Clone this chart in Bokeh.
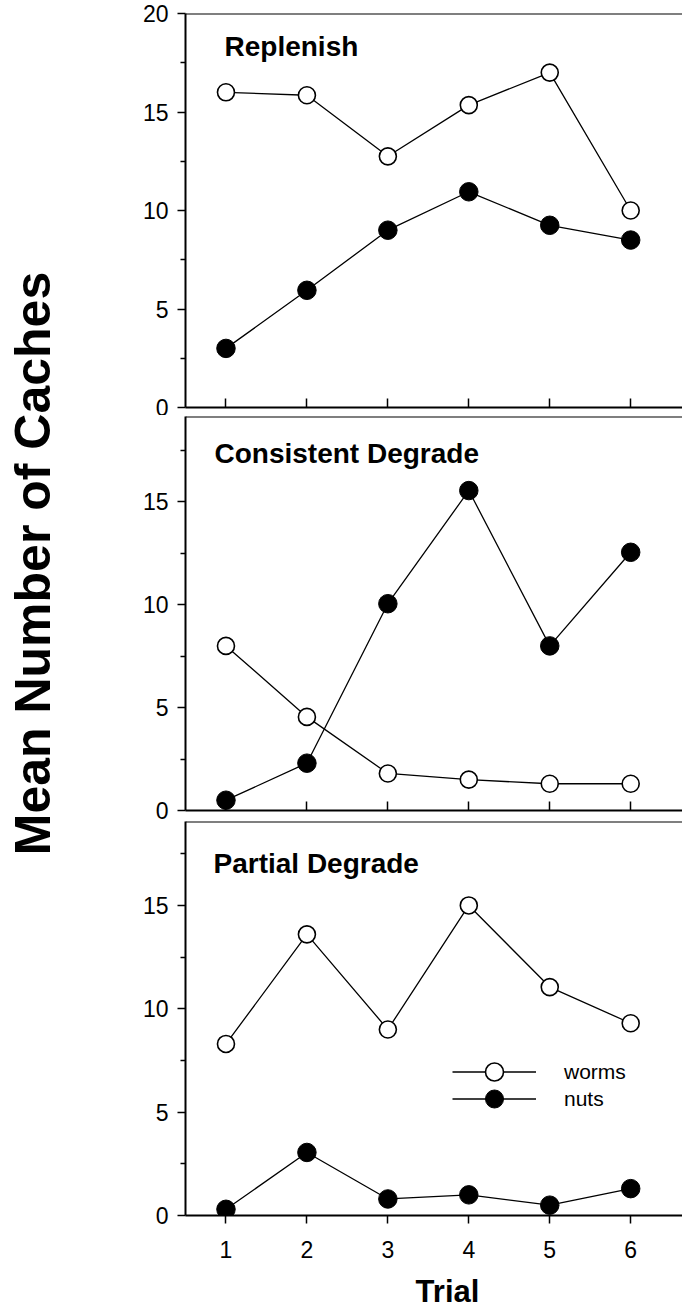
import math
from bokeh.plotting import figure
from bokeh.layouts import row, column
from bokeh.models import Range1d, Span, Label, Legend, LegendItem, FixedTicker
from bokeh.embed import file_html
from bokeh.resources import INLINE

# ---------------- data ----------------
trials = [1, 2, 3, 4, 5, 6]
panel_titles = ["Replenish", "Consistent Degrade", "Partial Degrade"]
replenish_worms = [16.0, 15.85, 12.75, 15.35, 17.0, 10.0]
replenish_nuts = [3.0, 5.95, 9.0, 10.95, 9.25, 8.5]
consistent_worms = [8.0, 4.55, 1.8, 1.5, 1.3, 1.3]
consistent_nuts = [0.5, 2.3, 10.05, 15.55, 8.0, 12.55]
partial_worms = [8.3, 13.6, 9.0, 15.0, 11.05, 9.3]
partial_nuts = [0.3, 3.05, 0.8, 1.0, 0.5, 1.3]
y_major_ticks = [0, 5, 10, 15, 20]
y_minor_ticks = [2.5, 7.5, 12.5, 17.5]
series_labels = ["worms", "nuts"]
y_title = "Mean Number of Caches"
x_title = "Trial"

FONT = "Liberation Sans"
TICK_FS = "23px"
LW = 100          # width of the y-title strip
PW = 582          # width of each panel figure
BL = 85           # left border of panels (frame left at page x=185)
XMIN, XMAX = 0.5, 6.64


def make_panel(title, worms, nuts, ymax, height, b_top, b_bottom, last, title_dy, title_dx):
    p = figure(width=PW, height=height,
               x_range=Range1d(XMIN, XMAX), y_range=Range1d(0, ymax),
               output_backend="svg", toolbar_location=None,
               min_border_left=BL, min_border_right=0,
               min_border_top=b_top, min_border_bottom=b_bottom)
    p.outline_line_color = None
    p.grid.visible = False

    # y axis
    ya = p.yaxis[0]
    ya.ticker = FixedTicker(ticks=y_major_ticks, minor_ticks=y_minor_ticks)
    ya.axis_line_width = 2
    ya.axis_line_color = "black"
    ya.major_tick_line_width = 1.5
    ya.minor_tick_line_width = 1.5
    ya.major_tick_in = 0
    ya.major_tick_out = 8
    ya.minor_tick_in = 0
    ya.minor_tick_out = 5
    ya.major_label_text_font = FONT
    ya.major_label_text_font_size = TICK_FS
    ya.major_label_text_color = "black"
    ya.major_label_standoff = 9

    # x axis
    xa = p.xaxis[0]
    xa.ticker = FixedTicker(ticks=trials)
    xa.axis_line_width = 2
    xa.axis_line_color = "black"
    xa.major_tick_line_width = 1.5
    xa.minor_tick_line_color = None
    if last:
        xa.major_tick_in = 0
        xa.major_tick_out = 8
        xa.major_label_text_font = FONT
        xa.major_label_text_font_size = TICK_FS
        xa.major_label_text_color = "black"
        xa.major_label_standoff = 17
    else:
        xa.major_tick_in = 9
        xa.major_tick_out = 0
        xa.major_label_text_font_size = "1px"
        xa.major_label_text_color = None
        xa.major_label_standoff = 0

    # top border of the panel
    p.add_layout(Span(location=ymax, dimension="width", line_color="black", line_width=2))

    nl = p.line(trials, nuts, line_color="black", line_width=1.3)
    ns = p.scatter(trials, nuts, size=18.5, marker="circle",
                   fill_color="black", line_color="black", line_width=1)
    wl = p.line(trials, worms, line_color="black", line_width=1.3)
    ws = p.scatter(trials, worms, size=17, marker="circle",
                   fill_color="white", line_color="black", line_width=1.6)

    frame_h = height - b_top - b_bottom
    p.add_layout(Label(x=title_dx, y=frame_h - title_dy, x_units="screen", y_units="screen",
                       text=title, text_font=FONT, text_font_size="28px",
                       text_font_style="bold", text_color="black",
                       text_baseline="middle", text_align="left"))
    return p, (wl, ws), (nl, ns)


H1, H2, H3, HX = 415, 404, 445, 46
p1, _, _ = make_panel(panel_titles[0], replenish_worms, replenish_nuts, 20.0,
                      H1, 13, 8, False, 33, 39)
p2, _, _ = make_panel(panel_titles[1], consistent_worms, consistent_nuts, 19.15,
                      H2, 1, 9, False, 37, 29)
p3, w_r, n_r = make_panel(panel_titles[2], partial_worms, partial_nuts, 19.06,
                          H3, 2, 49, True, 42, 28)

# legend: one entry per Legend so that the rows sit close together
for item, rend, bottom in [(series_labels[0], w_r, 121), (series_labels[1], n_r, 94)]:
    lg = Legend(items=[LegendItem(label=item, renderers=list(rend))],
                location=(267, bottom), padding=0, margin=0,
                border_line_color=None, background_fill_alpha=0,
                glyph_width=84, glyph_height=45, spacing=0, label_standoff=28,
                label_text_font=FONT, label_text_font_size="21px",
                label_text_color="black")
    p3.add_layout(lg)

# x title strip (its frame is aligned with the panels' frames)
xs = figure(width=PW, height=HX, x_range=Range1d(0, 1), y_range=Range1d(0, 1),
            output_backend="svg", toolbar_location=None,
            x_axis_location=None, y_axis_location=None,
            min_border_left=BL, min_border_right=0, min_border_top=0, min_border_bottom=0)
xs.outline_line_color = None
xs.grid.visible = False
xs.add_layout(Label(x=447 - (LW + BL), y=HX - (1291 - (H1 + H2 + H3)),
                    x_units="screen", y_units="screen",
                    text=x_title, text_font=FONT, text_font_size="31px", text_font_style="bold",
                    text_color="black", text_align="center", text_baseline="middle"))

# y title strip
H = H1 + H2 + H3 + HX
lab = figure(width=LW, height=H, x_range=Range1d(0, 1), y_range=Range1d(0, 1),
             output_backend="svg", toolbar_location=None,
             x_axis_location=None, y_axis_location=None, min_border=0)
lab.outline_line_color = None
lab.grid.visible = False
lab.add_layout(Label(x=32, y=H - 563, x_units="screen", y_units="screen",
                     text=y_title, angle=math.pi / 2,
                     text_font=FONT, text_font_size="50px", text_font_style="bold",
                     text_color="black", text_align="center", text_baseline="middle"))

layout = row(lab, column(p1, p2, p3, xs, spacing=0), spacing=0)

open("out.html", "w").write(file_html(layout, INLINE))
